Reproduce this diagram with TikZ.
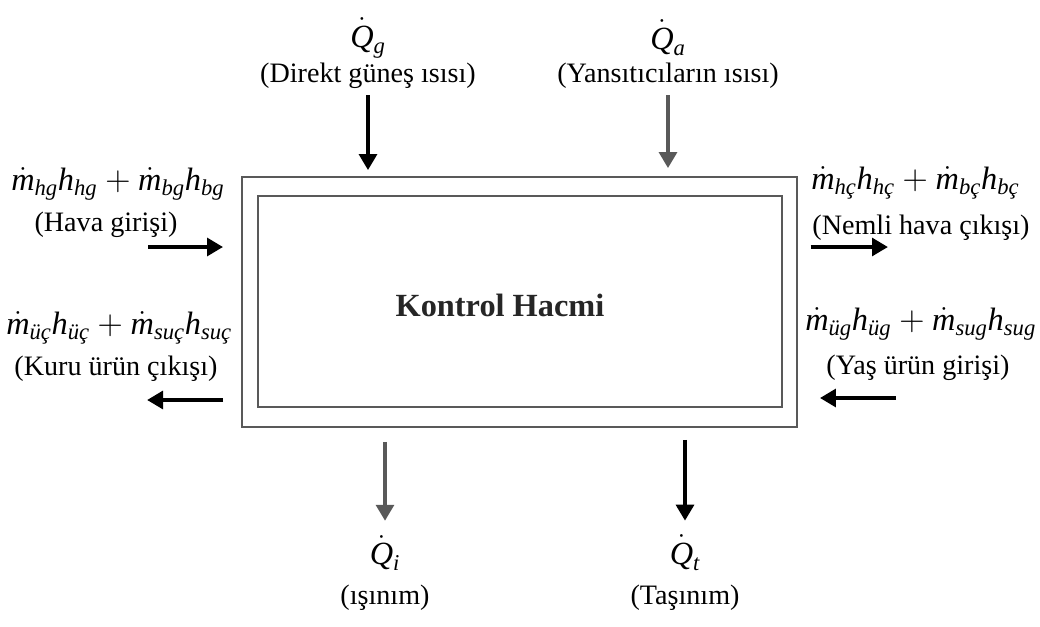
\documentclass[tikz,border=0pt]{standalone}
\usepackage{amsmath}
\usepackage{fontspec}
\setmainfont{Liberation Serif}
\usetikzlibrary{arrows.meta}

% italic Times letters with a flow dot
\newcommand{\dt}[1]{\dot{\textit{#1}}}
\newcommand{\ih}[1]{\textit{#1}}

\begin{document}
\begin{tikzpicture}[
      x=0.025cm, y=-0.025cm,
      lbl/.style={font=\fontsize{20}{23}\selectfont, inner sep=0pt},
      frm/.style={font=\fontsize{23}{26}\selectfont, inner sep=0pt},
      wall/.style={draw=gray!70!black, line width=1.2pt, inner sep=0pt},
      arr/.style={-{Triangle[length=4mm, width=4.4mm]}, line width=3pt},
      garr/.style={arr, gray!70!black}
    ]
      \useasboundingbox (0,0) rectangle (1040,626);

      % control volume
      \node[wall, minimum width=13.875cm, minimum height=6.25cm] (outer) at (519.5,302) {};
      \node[wall, minimum width=13.1cm, minimum height=5.275cm] (inner) at (520,301.5) {};
      \node[font=\fontsize{23}{26}\selectfont\bfseries, text=gray!30!black] (kh) at (500,305) {Kontrol Hacmi};

      % top heat inputs
      \node[frm] (qg) at (368,38) {$\dt{Q}_{\ih{g}}$};
      \node[lbl] (qgt) at (368,76) {(Direkt güneş ısısı)};
      \node[frm] (qa) at (668,38) {$\dt{Q}_{\ih{a}}$};
      \node[lbl] (qat) at (668,76) {(Yansıtıcıların ısısı)};

      % bottom heat losses
      \node[frm] (qi) at (385,553) {$\dt{Q}_{\ih{i}}$};
      \node[lbl] (qit) at (385,598) {(ışınım)};
      \node[frm] (qt) at (685,553) {$\dt{Q}_{\ih{t}}$};
      \node[lbl] (qtt) at (685,598) {(Taşınım)};

      % left side
      \node[frm, anchor=west] (hg) at (11,184) {$\dt{m}_{\ih{hg}}\ih{h}_{\ih{hg}}+\dt{m}_{\ih{bg}}\ih{h}_{\ih{bg}}$};
      \node[lbl] (hgt) at (106,225) {(Hava girişi)};
      \node[frm, anchor=west] (uc) at (6,328) {$\dt{m}_{\ih{üç}}\ih{h}_{\ih{üç}}+\dt{m}_{\ih{suç}}\ih{h}_{\ih{suç}}$};
      \node[lbl] (uct) at (116,369) {(Kuru ürün çıkışı)};

      % right side
      \node[frm, anchor=west] (hc) at (811,183) {$\dt{m}_{\ih{hç}}\ih{h}_{\ih{hç}}+\dt{m}_{\ih{bç}}\ih{h}_{\ih{bç}}$};
      \node[lbl] (hct) at (921,228) {(Nemli hava çıkışı)};
      \node[frm, anchor=west] (ug) at (805,324) {$\dt{m}_{\ih{üg}}\ih{h}_{\ih{üg}}+\dt{m}_{\ih{sug}}\ih{h}_{\ih{sug}}$};
      \node[lbl] (ugt) at (918,368) {(Yaş ürün girişi)};

      \coordinate (hgA) at (148,247);
      \coordinate (ucA) at (147,400);
      \coordinate (hcA) at (888,247);
      \coordinate (ugA) at (896,398);

      \draw[arr] (qgt.south) -- (qgt.south |- outer.north) [shorten <=1.5mm, shorten >=1.5mm];
      \draw[garr] (qat.south) -- (qat.south |- outer.north) [shorten <=1.5mm, shorten >=2mm];
      \draw[garr] (outer.south -| qi) -- (qi.north) [shorten <=3.5mm, shorten >=3.5mm];
      \draw[arr] (outer.south -| qt) -- (qt.north) [shorten <=3mm, shorten >=3.5mm];

      \draw[arr] (hgA) -- (outer.west |- hgA) [shorten >=4.5mm];
      \draw[arr] (outer.west |- ucA) -- (ucA) [shorten <=4.5mm];
      \draw[arr] (outer.east |- hcA) -- (hcA) [shorten <=3.2mm];
      \draw[arr] (ugA) -- (outer.east |- ugA) [shorten >=5.5mm];
    \end{tikzpicture}
\end{document}
